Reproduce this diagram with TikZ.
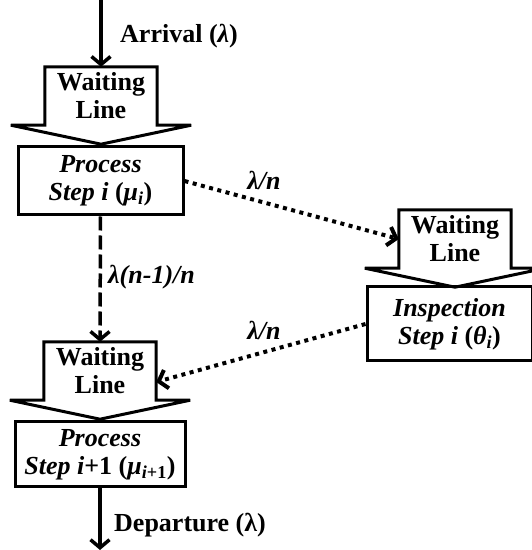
\documentclass[tikz,border=0pt]{standalone}
\usepackage{fontspec}
\setmainfont{Liberation Serif}
\usepackage{tikz}
\usetikzlibrary{arrows.meta,positioning,calc}
\tikzset{
  >={Straight Barb[length=8pt,width=19pt]},
  txt/.style     ={font=\bfseries\fontsize{26}{28}\selectfont},
  wait/.style    ={txt,minimum width=112pt,minimum height=58pt,
                   align=center,inner sep=0pt},
  proc/.style    ={txt,draw,line width=3pt,minimum width=165pt,
                   minimum height=68pt,align=center,inner sep=2pt},
  outline/.style ={draw,line width=3pt,line join=miter,miter limit=2},
  lbl/.style     ={txt,inner sep=0pt,anchor=west},
  flow/.style    ={->,line width=3.5pt},
  dashflow/.style={->,line width=3.5pt,dash pattern=on 14pt off 5pt},
  dotflow/.style ={->,line width=4pt,dash pattern=on 4pt off 4.5pt},
}
\begin{document}
\begin{tikzpicture}[x=1pt,y=1pt]
\useasboundingbox (0,0) rectangle (532,550);
% waiting lines
\node[wait] (wl1) at (101,454) {Waiting\\Line};
\node[wait] (wl2) at (100,179) {Waiting\\Line};
\node[wait] (wl3) at (455,311) {Waiting\\Line};
\foreach \w in {wl1,wl2,wl3}
  \draw[outline] (\w.north west) -- (\w.north east) -- (\w.south east)
    -- ++(34,0) -- ([yshift=-19pt]\w.south) -- ([xshift=-34pt]\w.south west)
    -- (\w.south west) -- cycle;
% steps
\node[proc] (p1) at (100.5,369) {\itshape Process\\{\itshape Step i }(\textit{μ}\textsubscript{\textit{i}})};
\node[proc,minimum width=170pt,minimum height=65pt] (p2) at (100,95.5)
  {\itshape Process\\{\itshape Step i}+1 (\textit{μ}\textsubscript{\textit{i}+1})};
\node[proc,minimum height=74pt] (insp) at (449.5,226)
  {\itshape Inspection\\{\itshape Step i }(\textit{θ}\textsubscript{\textit{i}})};
% flows
\coordinate (src) at (101,550);
\coordinate (snk) at (100,0);
\draw[flow] (src) -- (wl1.north);
\draw[dashflow] (p1.south) -- (wl2.north);
\draw[dotflow] (p1.east) -- (wl3.west);
\draw[dotflow] (insp.west) -- ([yshift=-11pt]wl2.east);
\draw[flow] (p2.south) -- (snk);
% labels
\node[lbl] (arr) at (120,514) {Arrival (\textit{λ})};
\node[lbl] (dep) at (114,25) {Departure (λ)};
\node[lbl] (pass) at (108,273) {\itshape λ(n-1)/n};
\node[txt] (out) at (264,370) {\itshape λ/n};
\node[txt] (back) at (264,220) {\itshape λ/n};
\end{tikzpicture}
\end{document}
